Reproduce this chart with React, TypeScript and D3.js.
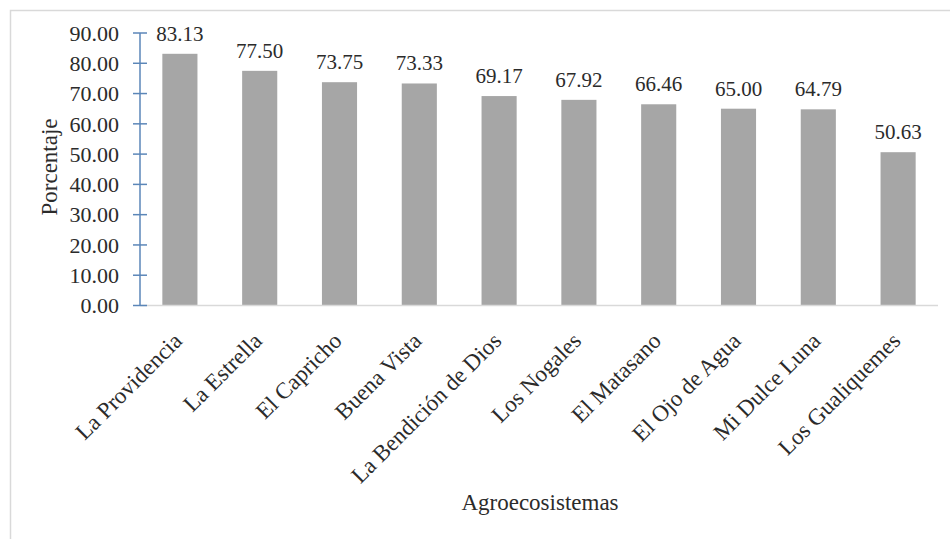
import React from "react";
import * as d3 from "d3";

const categories = [
  "La Providencia",
  "La Estrella",
  "El Capricho",
  "Buena Vista",
  "La Bendición de Dios",
  "Los Nogales",
  "El Matasano",
  "El Ojo de Agua",
  "Mi Dulce Luna",
  "Los Gualiquemes",
];
const values = [83.13, 77.5, 73.75, 73.33, 69.17, 67.92, 66.46, 65.0, 64.79, 50.63];
const yTicks = [0, 10, 20, 30, 40, 50, 60, 70, 80, 90];

const W = 950;
const H = 539;
const left = 140;
const right = 938;
const top = 33;
const bottom = 305.5;
const textColor = "#2b2b2b";
const tStyle = { fontFamily: "Liberation Serif, serif" };

export default function App() {
  const x = d3.scaleBand<string>().domain(categories).range([left, right]).paddingInner(0.56).paddingOuter(0.28);
  const y = d3.scaleLinear().domain([0, 90]).range([bottom, top]);

  return (
    <svg width={W} height={H} style={{ position: "absolute", left: 0, top: 0, background: "#fff" }}>
      <rect x={10.5} y={10.5} width={W} height={H} fill="none" stroke="#d9d9d9" strokeWidth={1.5} />
      {categories.map((c, i) => (
        <rect key={c} x={x(c)!} y={y(values[i])} width={x.bandwidth()} height={bottom - y(values[i])} fill="#a6a6a6" />
      ))}
      <line x1={left} x2={right} y1={bottom} y2={bottom} stroke="#d9d9d9" strokeWidth={1.5} />
      <line x1={left} x2={left} y1={top} y2={bottom} stroke="#5b86b8" strokeWidth={1.5} />
      {yTicks.map((t) => (
        <g key={t}>
          <line x1={left - 7} x2={left + 7} y1={y(t)} y2={y(t)} stroke="#5b86b8" strokeWidth={1.5} />
          <text x={119} y={y(t)} dy="0.35em" textAnchor="end" fontSize={22} fill={textColor} style={tStyle}>
            {t.toFixed(2)}
          </text>
        </g>
      ))}
      {categories.map((c, i) => (
        <text
          key={c}
          x={x(c)! + x.bandwidth() / 2}
          y={y(values[i]) - 13}
          textAnchor="middle"
          fontSize={21}
          fill={textColor}
          style={tStyle}
        >
          {values[i].toFixed(2)}
        </text>
      ))}
      {categories.map((c) => {
        const cx = x(c)! + x.bandwidth() / 2;
        return (
          <text
            key={c}
            transform={`translate(${cx - 2},${bottom + 31}) rotate(-45)`}
            textAnchor="end"
            dy="0.35em"
            fontSize={23}
            fill={textColor}
            style={tStyle}
          >
            {c}
          </text>
        );
      })}
      <text transform={`translate(57,167) rotate(-90)`} textAnchor="middle" fontSize={23} fill={textColor} style={tStyle}>
        Porcentaje
      </text>
      <text x={540} y={510} textAnchor="middle" fontSize={23} fill={textColor} style={tStyle}>
        Agroecosistemas
      </text>
    </svg>
  );
}
